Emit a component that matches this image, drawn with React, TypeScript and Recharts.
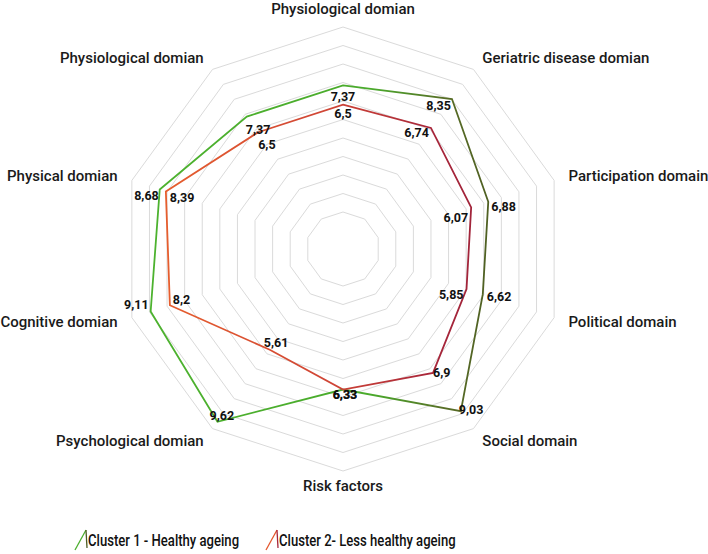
import { RadarChart, Radar, PolarGrid, PolarAngleAxis, PolarRadiusAxis, LabelList, Legend } from "recharts"

const axes = [
  "Physiological domian",
  "Geriatric disease domian",
  "Participation domain",
  "Political domain",
  "Social domain",
  "Risk factors",
  "Psychological domian",
  "Cognitive domian",
  "Physical domian",
  "Physiological domian",
]
const cluster1 = [7.37, 8.35, 6.88, 6.62, 9.03, 6.33, 9.62, 9.11, 8.68, 7.37]
const cluster2 = [6.5, 6.74, 6.07, 5.85, 6.9, 6.33, 5.61, 8.2, 8.39, 6.5]
const seriesNames = ["Cluster 1 - Healthy ageing", "Cluster 2- Less healthy ageing"]
const gridTicks = [0, 1, 2, 3, 4, 5, 6, 7, 8, 9, 10]
const gridDomain = [-2, 10]

// axis name appears twice, so key the categories by position
const data = axes.map((axis, i) => ({ key: i, axis, c1: cluster1[i], c2: cluster2[i] }))

const CX = 343
const CY = 249
const R = 222

// rings: the grid scale starts below zero, so the middle stays empty
const ringRadii = gridTicks.map((t) => (R * (t - gridDomain[0])) / (gridDomain[1] - gridDomain[0]))

// where each value label sits relative to its point: [anchor, dx, dy]
const c1Place: [string, number, number][] = [
  ["middle", 0, 16], ["end", -1, 11], ["start", 3, 9], ["start", 4, 7], ["start", -2, 3],
  ["middle", 2, 9], ["start", -8, -2], ["end", -2, -2], ["end", -1, 11], ["start", -1, 17],
]
const c2Place: [string, number, number][] = [
  ["middle", 0, 13], ["end", -2, 9], ["end", -3, 15], ["end", -3, 10], ["start", 0, 4],
  ["middle", 2, 9], ["start", -6, -3], ["start", 3, -1], ["start", 4, 11], ["start", 0, 17],
]

const fmt = (v: number) => String(v).replace(".", ",")

const valueLabel = (place: [string, number, number][]) => (props: any) => {
  const x = props.x ?? props.viewBox?.x
  const y = props.y ?? props.viewBox?.y
  const [anchor, dx, dy] = place[props.index]
  return (
    <text
      x={x + dx}
      y={y + dy}
      textAnchor={anchor}
      fontFamily="Roboto"
      fontWeight={700}
      fontSize={12.5}
      fill="#111"
    >
      {fmt(props.value)}
    </text>
  )
}

function AxisTick(props: any) {
  const { payload } = props
  const rad = (-payload.coordinate * Math.PI) / 180
  const cos = Math.cos(rad)
  const sin = Math.sin(rad)
  const gap = sin < -0.99 ? 18 : 15
  const x = CX + (R + gap) * cos
  const y = CY + (R + gap) * sin
  const anchor = cos > 0.1 ? "start" : cos < -0.1 ? "end" : "middle"
  return (
    <text x={x} y={y} dy="0.35em" textAnchor={anchor} fontFamily="Roboto" fontWeight={500} fontSize={15} fill="#1a1a1a">
      {axes[payload.value]}
    </text>
  )
}

const legendIcons = [
  ["#4caf2e", "#4d5c22"],
  ["#e4572e", "#a8263a"],
]
const legendLeft = [74, 265]

function LegendContent() {
  return (
    <div style={{ position: "relative", height: 24, fontFamily: "Roboto", fontWeight: 500, fontSize: 17, color: "#111" }}>
      {seriesNames.map((name, i) => (
        <div key={name} style={{ position: "absolute", left: legendLeft[i], top: 0, display: "flex", alignItems: "center", whiteSpace: "nowrap" }}>
          <svg width={14} height={22}>
            <path d="M1,21 L12,1" stroke={legendIcons[i][0]} strokeWidth={1.3} fill="none" />
            <path d="M12,1 L13,19" stroke={legendIcons[i][1]} strokeWidth={1.3} fill="none" />
          </svg>
          {/* the original face is condensed */}
          <span style={{ display: "inline-block", transform: "scaleX(0.77)", transformOrigin: "left center" }}>{name}</span>
        </div>
      ))}
    </div>
  )
}

export default function App() {
  return (
    <div style={{ position: "absolute", left: 0, top: 0, width: 708, height: 554, background: "#fff" }}>
      <RadarChart width={708} height={554} data={data} cx={CX} cy={CY} outerRadius={R}>
        <defs>
          <linearGradient id="gGreen" gradientUnits="userSpaceOnUse" x1={130} y1={0} x2={500} y2={0}>
            <stop offset="0" stopColor="#4db32f" />
            <stop offset="0.65" stopColor="#4aab2c" />
            <stop offset="0.85" stopColor="#586e26" />
            <stop offset="1" stopColor="#4d5c22" />
          </linearGradient>
          <linearGradient id="gRed" gradientUnits="userSpaceOnUse" x1={150} y1={0} x2={480} y2={0}>
            <stop offset="0" stopColor="#e8602d" />
            <stop offset="0.55" stopColor="#cf4536" />
            <stop offset="0.85" stopColor="#a8263a" />
            <stop offset="1" stopColor="#a0243a" />
          </linearGradient>
        </defs>
        <PolarGrid gridType="polygon" radialLines={false} stroke="#dadada" polarRadius={ringRadii} />
        <PolarAngleAxis dataKey="key" axisLine={false} tickLine={false} tick={<AxisTick />} />
        <PolarRadiusAxis domain={[0, 10]} tick={false} axisLine={false} />
        <Radar
          name={seriesNames[0]}
          dataKey="c1"
          stroke="url(#gGreen)"
          strokeWidth={1.8}
          fill="none"
          fillOpacity={0}
          isAnimationActive={false}
        >
          <LabelList dataKey="c1" content={valueLabel(c1Place)} />
        </Radar>
        <Radar
          name={seriesNames[1]}
          dataKey="c2"
          stroke="url(#gRed)"
          strokeWidth={1.8}
          fill="none"
          fillOpacity={0}
          isAnimationActive={false}
        >
          <LabelList dataKey="c2" content={valueLabel(c2Place)} />
        </Radar>
        <Legend content={<LegendContent />} wrapperStyle={{ left: 0, top: 529, width: 708 }} />
      </RadarChart>
    </div>
  )
}
